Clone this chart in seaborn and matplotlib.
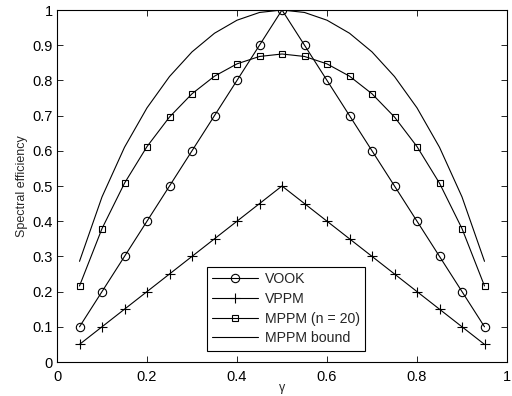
import matplotlib
matplotlib.use("Agg")
import matplotlib.pyplot as plt
import seaborn as sns
import pandas as pd

gamma = [0.05, 0.10, 0.15, 0.20, 0.25, 0.30, 0.35, 0.40, 0.45, 0.50,
         0.55, 0.60, 0.65, 0.70, 0.75, 0.80, 0.85, 0.90, 0.95]
vook = [0.10, 0.20, 0.30, 0.40, 0.50, 0.60, 0.70, 0.80, 0.90, 1.00,
        0.90, 0.80, 0.70, 0.60, 0.50, 0.40, 0.30, 0.20, 0.10]
vppm = [0.05, 0.10, 0.15, 0.20, 0.25, 0.30, 0.35, 0.40, 0.45, 0.50,
        0.45, 0.40, 0.35, 0.30, 0.25, 0.20, 0.15, 0.10, 0.05]
mppm20 = [0.216, 0.379, 0.508, 0.612, 0.696, 0.762, 0.812, 0.847, 0.868, 0.875,
          0.868, 0.847, 0.812, 0.762, 0.696, 0.612, 0.508, 0.379, 0.216]
bound = [0.286, 0.469, 0.610, 0.722, 0.811, 0.881, 0.934, 0.971, 0.993, 1.000,
         0.993, 0.971, 0.934, 0.881, 0.811, 0.722, 0.610, 0.469, 0.286]
labels = ["VOOK", "VPPM", "MPPM (n = 20)", "MPPM bound"]

sns.set_theme(style="ticks")
plt.rcParams['font.family'] = ['Liberation Sans', 'DejaVu Sans']

fig = plt.figure(figsize=(5.12, 3.96), dpi=100)
ax = fig.add_axes([57/512, 34/396, 450/512, 352/396])

series = [vook, vppm, mppm20, bound]
markers = ["o", "+", "s", None]
msizes = [6, 7, 4.5, 0]
for lab, ys, mk, ms in zip(labels, series, markers, msizes):
    df = pd.DataFrame({"gamma": gamma, "eff": ys})
    sns.lineplot(data=df, x="gamma", y="eff", ax=ax, color="black", lw=0.8,
                 marker=mk if mk else "", markersize=ms, markerfacecolor="none",
                 markeredgecolor="black", markeredgewidth=0.8, label=lab)

ax.set_xlim(0, 1)
ax.set_ylim(0, 1)
ax.set_xticks([0, 0.2, 0.4, 0.6, 0.8, 1])
ax.set_xticklabels(["0", "0.2", "0.4", "0.6", "0.8", "1"])
ax.set_yticks([i / 10 for i in range(11)])
ax.set_yticklabels(["0"] + [f"0.{i}" for i in range(1, 10)] + ["1"])
ax.tick_params(direction="in", top=True, right=True, labelsize=10.5, length=4,
               width=0.6, colors="black")
ax.tick_params(axis="x", pad=6)
ax.tick_params(axis="y", pad=3)
for s in ax.spines.values():
    s.set_linewidth(0.8)
    s.set_color("black")
ax.set_xlabel("γ", fontsize=9)
ax.xaxis.set_label_coords(0.5, -0.058)
ax.set_ylabel("Spectral efficiency", fontsize=9, labelpad=3)

leg = ax.legend(loc="lower center", bbox_to_anchor=(0.509, 0.031), fontsize=10.2,
                frameon=True, fancybox=False, edgecolor="black", framealpha=1,
                handlelength=3.2, borderpad=0.4, labelspacing=0.4, handletextpad=0.5,
                borderaxespad=0)
leg.get_frame().set_linewidth(0.8)

fig.savefig("out.png", dpi=100)
